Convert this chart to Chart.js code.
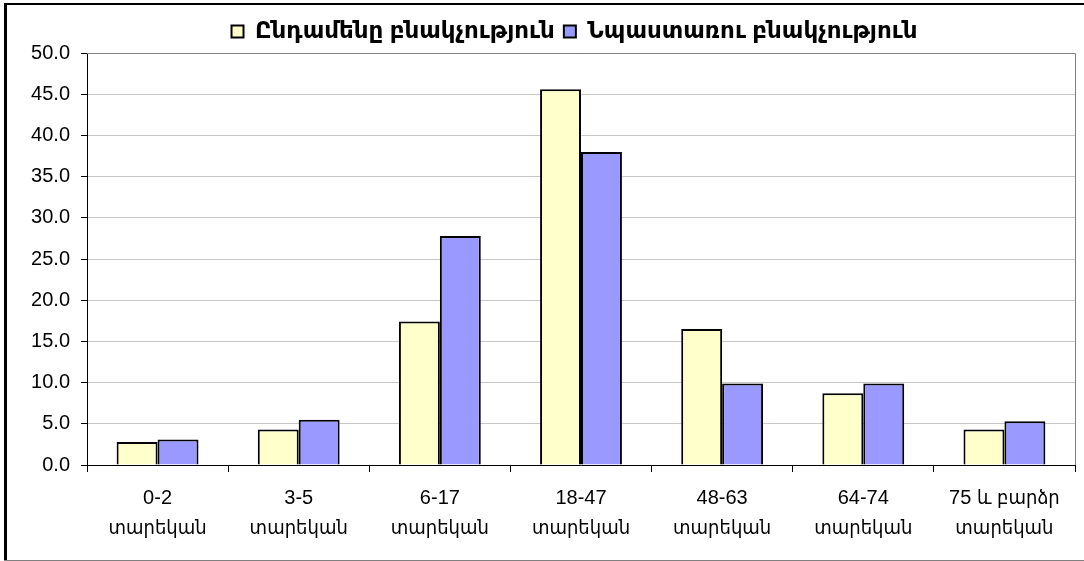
<!DOCTYPE html>
<html><head><meta charset="utf-8">
<script src="https://cdn.jsdelivr.net/npm/chart.js@4/dist/chart.umd.min.js"></script>
<style>html,body{margin:0;padding:0;background:#fff;}canvas{display:block;}</style>
</head><body>
<canvas id="c" width="1084" height="561"></canvas>
<script>
const categories = [["0-2","տարեկան"],["3-5","տարեկան"],["6-17","տարեկան"],["18-47","տարեկան"],["48-63","տարեկան"],["64-74","տարեկան"],["75 և բարձր","տարեկան"]];
const seriesNames = ["Ընդամենը բնակչություն","Նպաստառու բնակչություն"];
const totalPop = [2.8, 4.3, 17.4, 45.6, 16.5, 8.7, 4.3];
const beneficiaryPop = [3.1, 5.5, 27.8, 38.0, 9.9, 9.9, 5.3];
const yTicks = [0,5,10,15,20,25,30,35,40,45,50];

const FONT = "Arial, 'Liberation Sans', 'DejaVu Sans Condensed', 'DejaVu Sans', sans-serif";
const LFONT = "Arial, 'Liberation Sans', 'DejaVu Sans', sans-serif";

const framePlugin = {
  id:'frame',
  afterLayout(chart){
    const lg = chart.legend;
    if (lg) { lg.left += 37; lg.right += 37; }
  },
  beforeDatasetsDraw(chart){
    const {ctx, chartArea:a} = chart;
    ctx.save();
    ctx.strokeStyle='#808080'; ctx.lineWidth=1;
    ctx.beginPath();
    ctx.moveTo(a.left, a.top+0.5); ctx.lineTo(a.right+0.5, a.top+0.5); ctx.lineTo(a.right+0.5, a.bottom);
    ctx.stroke();
    ctx.restore();
  },
  afterDraw(chart){
    const ctx = chart.ctx;
    ctx.save();
    ctx.strokeStyle='#000';
    ctx.lineWidth=3;
    ctx.beginPath(); ctx.moveTo(5.5,3); ctx.lineTo(5.5,561); ctx.stroke();
    ctx.lineWidth=2;
    ctx.beginPath(); ctx.moveTo(4,4); ctx.lineTo(1084,4); ctx.stroke();
    ctx.strokeStyle='#808080'; ctx.lineWidth=1;
    ctx.beginPath(); ctx.moveTo(4,560.5); ctx.lineTo(1084,560.5); ctx.stroke();
    ctx.restore();
  }
};

new Chart(document.getElementById('c'), {
  type:'bar',
  data:{
    labels: categories,
    datasets:[
      {label: seriesNames[0], data: totalPop, backgroundColor:'#FFFFCC', borderColor:'#000', borderWidth:2, borderSkipped:'bottom'},
      {label: seriesNames[1], data: beneficiaryPop, backgroundColor:'#9999FF', borderColor:'#000', borderWidth:2, borderSkipped:'bottom'}
    ]
  },
  options:{
    responsive:false, animation:false, devicePixelRatio:1,
    layout:{padding:{left:0,right:9,top:11,bottom:0}},
    datasets:{bar:{categoryPercentage:0.58, barPercentage:1.0}},
    plugins:{
      legend:{position:'top', labels:{font:{family:LFONT, size:23, weight:'bold'}, color:'#000', boxWidth:12, boxHeight:12, padding:9}},
      tooltip:{enabled:false}
    },
    scales:{
      x:{
        grid:{drawOnChartArea:false, drawTicks:true, tickLength:7, tickColor:'#000', offset:true},
        border:{color:'#000', width:1},
        ticks:{font:{family:FONT, size:20, lineHeight:1.5}, color:'#000', padding:11, maxRotation:0, autoSkip:false},
        afterFit(s){ s.height = 96; }
      },
      y:{
        min:0, max:50,
        afterBuildTicks(s){ s.ticks = yTicks.map(v=>({value:v})); },
        grid:{color:'#C8C8C8', tickLength:6, tickColor:'#000'},
        border:{color:'#000', width:1},
        ticks:{font:{family:FONT, size:20}, color:'#000', padding:11, callback:v=>Number(v).toFixed(1)},
        afterFit(s){ s.width = 87; }
      }
    }
  },
  plugins:[framePlugin]
});
</script>
</body></html>
